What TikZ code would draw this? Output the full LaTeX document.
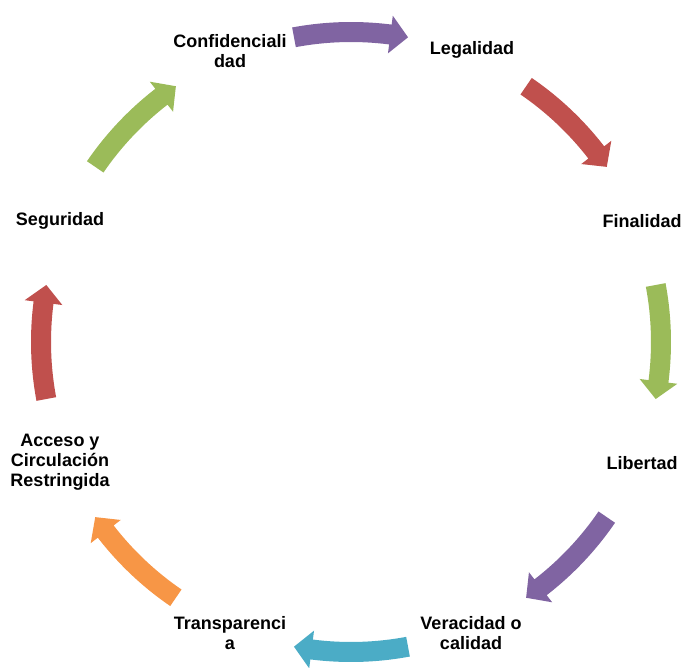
\documentclass[tikz,border=0pt]{standalone}
\usepackage{fontspec}
\setmainfont{Liberation Sans}
\definecolor{accPurple}{HTML}{8064A2}
\definecolor{accRed}{HTML}{C0504D}
\definecolor{accGreen}{HTML}{9BBB59}
\definecolor{accAqua}{HTML}{4BACC6}
\definecolor{accOrange}{HTML}{F79646}
% curved block arrow on the ring, centred on angle #1, running clockwise
\newcommand\cyclearrow[2]{%
  \pgfmathsetmacro\aStart{#1+10.6}%
  \pgfmathsetmacro\aHead{#1-7.3}%
  \pgfmathsetmacro\aTip{#1-10.6}%
  \fill[#2] (\aStart:320) arc[start angle=\aStart, end angle=\aHead, radius=320]
    -- (\aHead:329) -- (\aTip:310) -- (\aHead:291) -- (\aHead:300)
    arc[start angle=\aHead, end angle=\aStart, radius=300] -- cycle;}
\begin{document}
\begin{tikzpicture}[x=1pt,y=1pt,
  label/.style={align=center,font=\fontsize{18}{20}\selectfont\bfseries,inner sep=0pt}]
\useasboundingbox (0,-668) rectangle (683,0);
% the ring of principles
\node[label] (conf)   at (230,-51)  {Confidenciali\\dad};
\node[label] (legal)  at (472,-50)  {Legalidad};
\node[label] (final)  at (642,-221) {Finalidad};
\node[label] (libert) at (642,-463) {Libertad};
\node[label] (verac)  at (471,-633) {Veracidad o\\calidad};
\node[label] (transp) at (230,-633) {Transparenci\\a};
\node[label] (acceso) at (60,-462)  {Acceso y\\Circulación\\Restringida};
\node[label] (segur)  at (60,-221)  {Seguridad};
% arrows between neighbours
\begin{scope}[shift={(351,-342)}]
  \cyclearrow{90}{accPurple}
  \cyclearrow{45}{accRed}
  \cyclearrow{0}{accGreen}
  \cyclearrow{-45}{accPurple}
  \cyclearrow{-90}{accAqua}
  \cyclearrow{-135}{accOrange}
  \cyclearrow{180}{accRed}
  \cyclearrow{135}{accGreen}
\end{scope}
\end{tikzpicture}
\end{document}
